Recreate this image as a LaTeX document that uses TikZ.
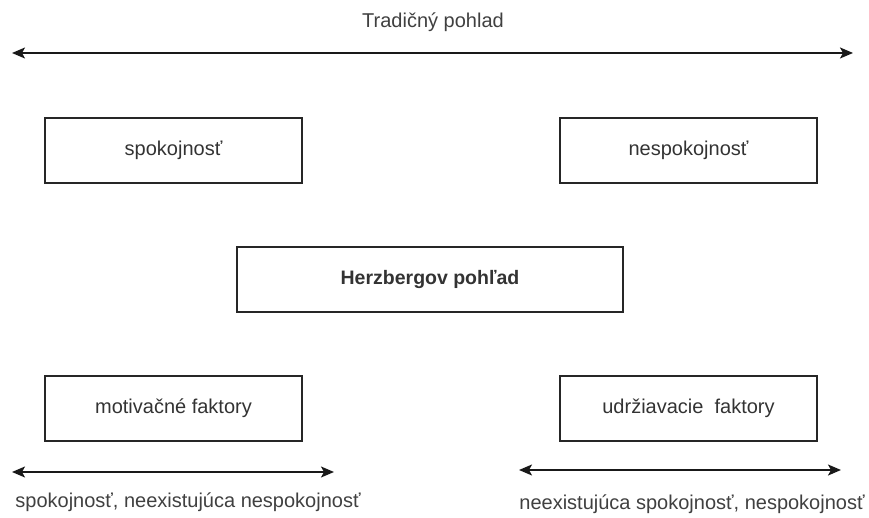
\documentclass[tikz,border=0pt]{standalone}
\usepackage{fontspec}
\setmainfont{Liberation Sans}
\usepackage{xcolor}
\usetikzlibrary{positioning, arrows.meta}

\begin{document}
\begin{tikzpicture}[
  x=1pt, y=-1pt,
  box/.style={rectangle, draw=black!85, line width=1.3pt,
              minimum height=65pt, minimum width=257pt, align=center,
              font=\fontsize{20}{23}\selectfont, text=black!80},
  wide/.style={box, minimum width=386pt, font=\fontsize{19.5}{23}\selectfont\bfseries},
  label/.style={font=\fontsize{20}{23}\selectfont, text=black!75, inner sep=0pt},
  arrow/.style={{Stealth[length=13pt,width=11pt,inset=3pt]}-{Stealth[length=13pt,width=11pt,inset=3pt]},
                line width=1.7pt, black!90},
]
\useasboundingbox (0,0) rectangle (869,518);

\node[label] at (433, 22) (trad) {Tradičný pohlad};
\coordinate (tradL) at (12, 53);
\coordinate (tradR) at (853, 53);

\node[box] at (173.5, 150.5) (spok)   {spokojnosť};
\node[box] at (688.5, 150.5) (nespok) {nespokojnosť};

\node[wide] at (430, 279.5) (herz) {Herzbergov pohľad};

\node[box] at (173.5, 408.5) (motiv) {motivačné faktory};
\node[box] at (688.5, 408.5) (udrz)  {udržiavacie~ faktory};

\coordinate (motL) at (12, 472);
\coordinate (motR) at (334, 472);
\coordinate (udrL) at (519, 470);
\coordinate (udrR) at (841, 470);

\node[label] at (188, 502) (motTxt) {spokojnosť, neexistujúca nespokojnosť};
\node[label] at (692, 504) (udrTxt) {neexistujúca spokojnosť, nespokojnosť};

\draw[arrow] (tradL) -- (tradR);
\draw[arrow] (motL) -- (motR);
\draw[arrow] (udrL) -- (udrR);
\end{tikzpicture}
\end{document}
